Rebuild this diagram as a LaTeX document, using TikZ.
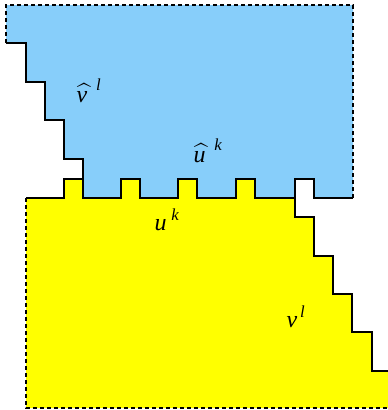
\documentclass[tikz,border=0pt]{standalone}
\usepackage{amsmath}
\usepackage{fontspec}
\setmainfont{Liberation Serif}

\definecolor{skyblue}{RGB}{135,206,250}
\definecolor{brightyellow}{RGB}{255,255,0}

\begin{document}
\begin{tikzpicture}[x=1pt, y=-1pt, line width=1.2pt,
  cut/.style={dash pattern=on 4pt off 3pt},
  edge/.style={line join=miter},
  lbl/.style={inner sep=0pt, anchor=base west, font=\fontsize{24}{28}\selectfont\itshape}]
  \useasboundingbox (0,0) rectangle (388,410);
  % upper block
  \fill[skyblue] (6,5) -- (353,5) -- (353,198) -- (314,198) -- (314,179)
    -- (295,179) -- (295,198) -- (255,198) -- (255,179) -- (236,179)
    -- (236,198) -- (197,198) -- (197,179) -- (178,179) -- (178,198)
    -- (140,198) -- (140,179) -- (121,179) -- (121,198) -- (83,198)
    -- (83,159) -- (64,159) -- (64,120) -- (45,120) -- (45,82)
    -- (26,82) -- (26,43) -- (6,43) -- cycle;
  % lower block
  \fill[brightyellow] (26,198) -- (64,198) -- (64,179) -- (83,179) -- (83,198)
    -- (121,198) -- (121,179) -- (140,179) -- (140,198) -- (178,198)
    -- (178,179) -- (197,179) -- (197,198) -- (236,198) -- (236,179)
    -- (255,179) -- (255,198) -- (295,198) -- (295,217) -- (314,217)
    -- (314,256) -- (333,256) -- (333,294) -- (352,294) -- (352,332)
    -- (372,332) -- (372,371) -- (388,371) -- (388,408) -- (26,408) -- cycle;
  % open boundaries
  \draw[cut] (6,43) -- (6,5) -- (353,5) -- (353,198);
  \draw[cut] (26,198) -- (26,408) -- (388,408);
  % upper staircase
  \draw[edge] (6,43) -- (26,43) -- (26,82) -- (45,82) -- (45,120)
    -- (64,120) -- (64,159) -- (83,159) -- (83,198);
  % interface
  \draw[edge] (26,198) -- (64,198) -- (64,179) -- (83,179) -- (83,198)
    -- (121,198) -- (121,179) -- (140,179) -- (140,198) -- (178,198)
    -- (178,179) -- (197,179) -- (197,198) -- (236,198) -- (236,179)
    -- (255,179) -- (255,198) -- (295,198) -- (295,179) -- (314,179)
    -- (314,198) -- (353,198);
  % lower staircase
  \draw[edge] (295,198) -- (295,217) -- (314,217) -- (314,256) -- (333,256)
    -- (333,294) -- (352,294) -- (352,332) -- (372,332) -- (372,371)
    -- (388,371);
  % labels
  \node[lbl] (vhat) at (76,102) {$\widehat{\hbox{\itshape v\,}}^{\;\text{\itshape l}}$};
  \node[lbl] (uhat) at (193,162) {$\widehat{\hbox{\itshape u\,}}^{\;\text{\itshape k}}$};
  \node[lbl] (uk) at (154,230) {$\hbox{\itshape u}^{\;\text{\itshape k}}$};
  \node[lbl] (vl) at (286,327) {$\hbox{\itshape v}^{\,\text{\itshape l}}$};
\end{tikzpicture}
\end{document}
